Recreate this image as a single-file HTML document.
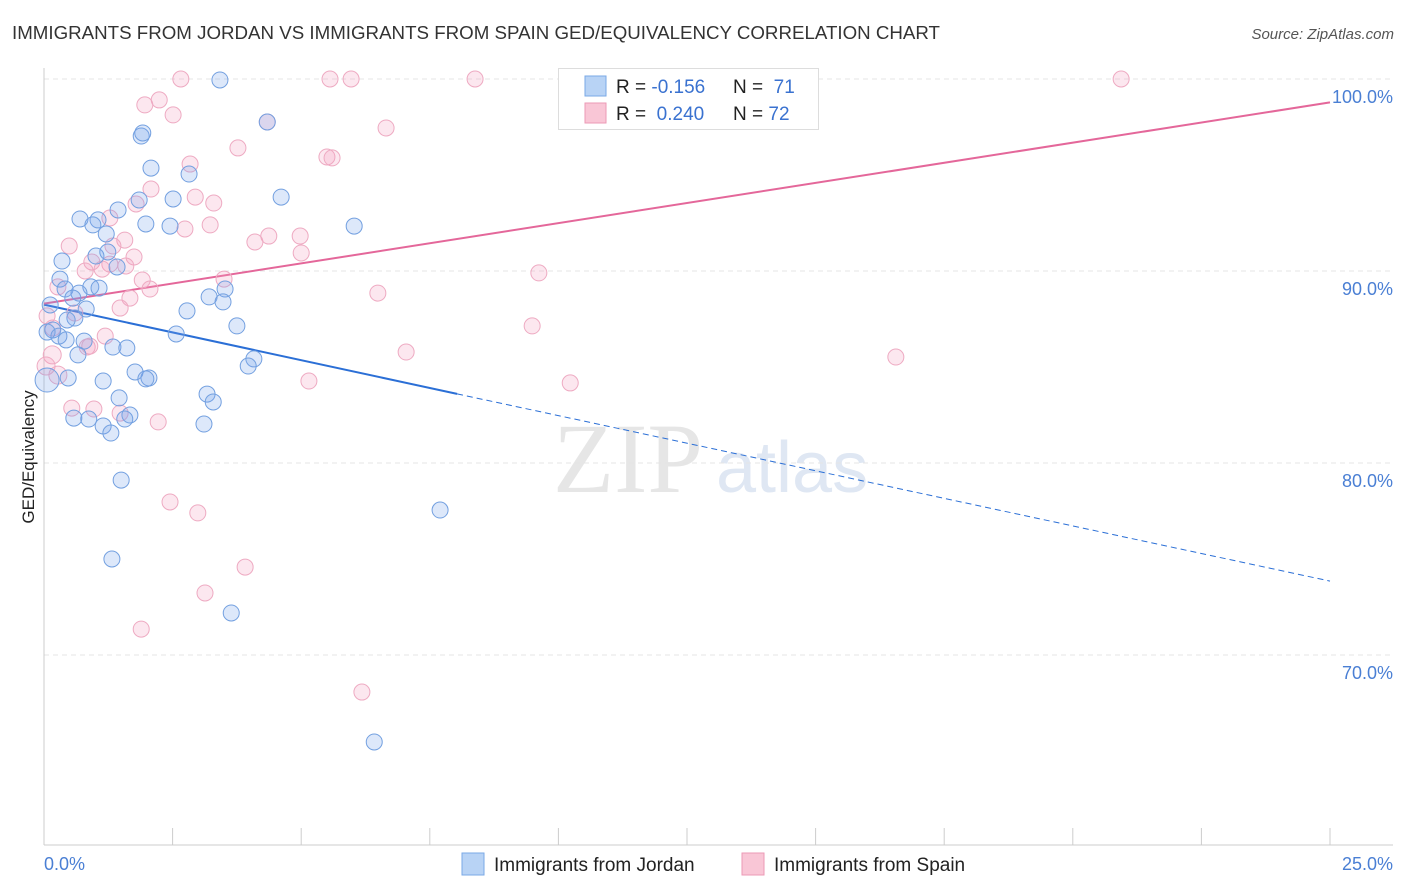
<!DOCTYPE html>
<html><head><meta charset="utf-8"><style>
body{margin:0;background:#fff;font-family:"Liberation Sans",sans-serif;}
svg{display:block}
</style></head><body>
<svg id="chart" width="1406" height="892" xmlns="http://www.w3.org/2000/svg">
<text x="12" y="39" font-size="18" fill="#333" textLength="928" lengthAdjust="spacingAndGlyphs">IMMIGRANTS FROM JORDAN VS IMMIGRANTS FROM SPAIN GED/EQUIVALENCY CORRELATION CHART</text>
<text x="1394" y="39" font-size="15" fill="#555" font-style="italic" text-anchor="end">Source: ZipAtlas.com</text>
<text transform="translate(34,457) rotate(-90)" font-size="17" fill="#222" text-anchor="middle">GED/Equivalency</text>
<g>
<text x="553" y="492" font-size="100" font-family="Liberation Serif,serif" fill="#e6e6e6">ZIP</text>
<text x="716" y="492" font-size="72" fill="#dfe7f3">atlas</text>
</g>
<g id="grid"></g>
<g id="axes"></g>
<g id="lines"></g>
<g id="pts"></g>
<g>
<rect x="558.5" y="68.5" width="260" height="61" fill="#fff" stroke="#ddd"/>
<rect x="585" y="76" width="21" height="20" fill="#b8d3f5" stroke="#7aa8e6"/>
<rect x="585" y="103" width="21" height="20" fill="#f9c6d6" stroke="#ec9ab6"/>
<text x="616" y="93" font-size="19" fill="#222">R = <tspan fill="#3a72d0">-0.156</tspan></text>
<text x="733" y="93" font-size="19" fill="#222">N = <tspan fill="#3a72d0">&#160;71</tspan></text>
<text x="616" y="120" font-size="19" fill="#222">R = <tspan fill="#3a72d0">&#160;0.240</tspan></text>
<text x="733" y="120" font-size="19" fill="#222">N = <tspan fill="#3a72d0">72</tspan></text>
</g>
<g>
<rect x="462" y="853" width="22" height="22" fill="#b8d3f5" stroke="#7aa8e6"/>
<text x="494" y="871" font-size="19" fill="#222">Immigrants from Jordan</text>
<rect x="742" y="853" width="22" height="22" fill="#f9c6d6" stroke="#ec9ab6"/>
<text x="774" y="871" font-size="19" fill="#222">Immigrants from Spain</text>
</g>
</svg>
<script>
const jordanX=[3.42,4.34,1.89,1.92,2.08,2.82,2.51,1.85,4.61,1.44,0.70,1.05,0.95,1.98,2.45,6.03,1.21,0.35,1.01,1.42,1.24,0.31,0.41,0.91,1.07,0.68,0.56,3.21,3.52,3.48,2.78,0.12,0.82,0.60,0.45,3.75,0.17,2.57,0.06,0.29,0.43,0.78,1.34,1.61,0.66,4.08,3.97,1.77,2.04,1.98,0.47,1.15,3.17,3.29,1.46,1.67,0.58,0.87,1.15,1.57,1.30,3.11,1.50,7.70,1.32,3.64,6.42,0.06];
const jordanY=[99.95,97.76,97.03,97.19,95.36,95.05,93.75,93.70,93.85,93.18,92.71,92.66,92.40,92.45,92.34,92.34,91.93,90.52,90.78,90.21,90.99,89.58,89.06,89.17,89.11,88.85,88.59,88.65,89.06,88.39,87.92,88.23,88.02,87.55,87.45,87.14,86.93,86.72,86.82,86.61,86.41,86.35,86.04,85.99,85.63,85.42,85.05,84.74,84.43,84.38,84.43,84.27,83.59,83.18,83.39,82.50,82.34,82.29,81.93,82.29,81.56,82.03,79.11,77.55,75.00,72.19,65.47,84.32];
const spainX=[2.66,5.56,5.97,8.38,11.98,20.94,2.24,1.96,2.51,4.34,6.65,3.77,5.50,5.60,2.84,2.08,2.94,3.30,1.79,1.28,2.74,4.37,4.98,4.10,0.49,1.57,1.34,1.75,1.28,5.00,0.93,1.59,1.13,0.80,9.62,3.50,1.91,2.06,0.27,6.49,1.67,1.48,0.60,0.06,9.49,0.17,1.19,0.84,7.04,0.16,0.04,0.27,16.56,5.15,10.23,0.54,0.97,1.48,2.22,2.45,2.99,3.91,3.13,1.89,6.18,0.89,3.23];
const spainY=[100,100,100,100,100,100,98.91,98.65,98.13,97.76,97.45,96.41,95.94,95.89,95.57,94.27,93.85,93.54,93.49,92.76,92.19,91.82,91.82,91.51,91.30,91.61,91.30,90.73,90.36,90.94,90.47,90.26,90.10,90.00,89.90,89.58,89.53,89.06,89.17,88.85,88.59,88.07,87.81,87.66,87.14,87.03,86.61,86.04,85.78,85.63,85.05,84.58,85.52,84.27,84.17,82.86,82.81,82.60,82.14,77.97,77.40,74.58,73.23,71.35,68.07,86.09,92.40];
const yTicks=[100,90,80,70];
const yTickLabels=["100.0%","90.0%","80.0%","70.0%"];
const xTicks=[0,2.5,5,7.5,10,12.5,15,17.5,20,22.5,25];
const jordanTrend=[[0,88.25],[8.03,83.6],[25,73.85]];
const spainTrend=[[0,88.3],[25,98.78]];

const NS="http://www.w3.org/2000/svg";
const sx=v=>44+v/25*1286;
const sy=v=>79+(100-v)*19.2;
function mk(tag,attrs,parent){const e=document.createElementNS(NS,tag);for(const k in attrs)e.setAttribute(k,attrs[k]);parent.appendChild(e);return e;}
const grid=document.getElementById('grid'),axes=document.getElementById('axes'),lines=document.getElementById('lines'),pts=document.getElementById('pts');
yTicks.forEach((t,i)=>{
 const g=mk('line',{x1:44,x2:1393,y1:sy(t),y2:sy(t),stroke:'#e4e4e4','stroke-dasharray':'5,4'},grid);
 
 
 const l=mk('text',{x:1393,y:sy(t)+24,'font-size':18,fill:'#4a7fd4','text-anchor':'end'},axes);
 l.textContent=yTickLabels[i];
 
 
});
const ya=mk('line',{x1:44,x2:44,y1:68,y2:845,stroke:'#ccc'},axes);


const xa=mk('line',{x1:44,x2:1393,y1:845,y2:845,stroke:'#ccc'},axes);


xTicks.forEach(t=>{
 const k=mk('line',{x1:sx(t),x2:sx(t),y1:828,y2:845,stroke:'#ccc'},axes);
 
 
});
const x0=mk('text',{x:44,y:870,'font-size':18,fill:'#4a7fd4'},axes);x0.textContent='0.0%';


const x1=mk('text',{x:1393,y:870,'font-size':18,fill:'#4a7fd4','text-anchor':'end'},axes);x1.textContent='25.0%';



function pt(x,y,r,fill,stroke,name){
 const c=mk('circle',{cx:sx(x),cy:sy(y),r:r,fill:fill,stroke:stroke,'stroke-width':1},pts);
 
 
}
spainX.forEach((x,i)=>pt(x,spainY[i],(i>=49&&i<=51)?9:8,'rgba(245,160,190,0.25)','#eeaac2','spain-point'));
jordanX.forEach((x,i)=>pt(x,jordanY[i],i===jordanX.length-1?12:8,'rgba(120,165,235,0.25)','#73a0e0','jordan-point'));

const jt=jordanTrend;
const l1=mk('line',{x1:sx(jt[0][0]),y1:sy(jt[0][1]),x2:sx(jt[1][0]),y2:sy(jt[1][1]),stroke:'#2b6fd6','stroke-width':2},lines);


const l2=mk('line',{x1:sx(jt[1][0]),y1:sy(jt[1][1]),x2:sx(jt[2][0]),y2:sy(jt[2][1]),stroke:'#2b6fd6','stroke-width':1,'stroke-dasharray':'6,4'},lines);


const st=spainTrend;
const l3=mk('line',{x1:sx(st[0][0]),y1:sy(st[0][1]),x2:sx(st[1][0]),y2:sy(st[1][1]),stroke:'#e4679a','stroke-width':2},lines);


</script>
</body></html>
